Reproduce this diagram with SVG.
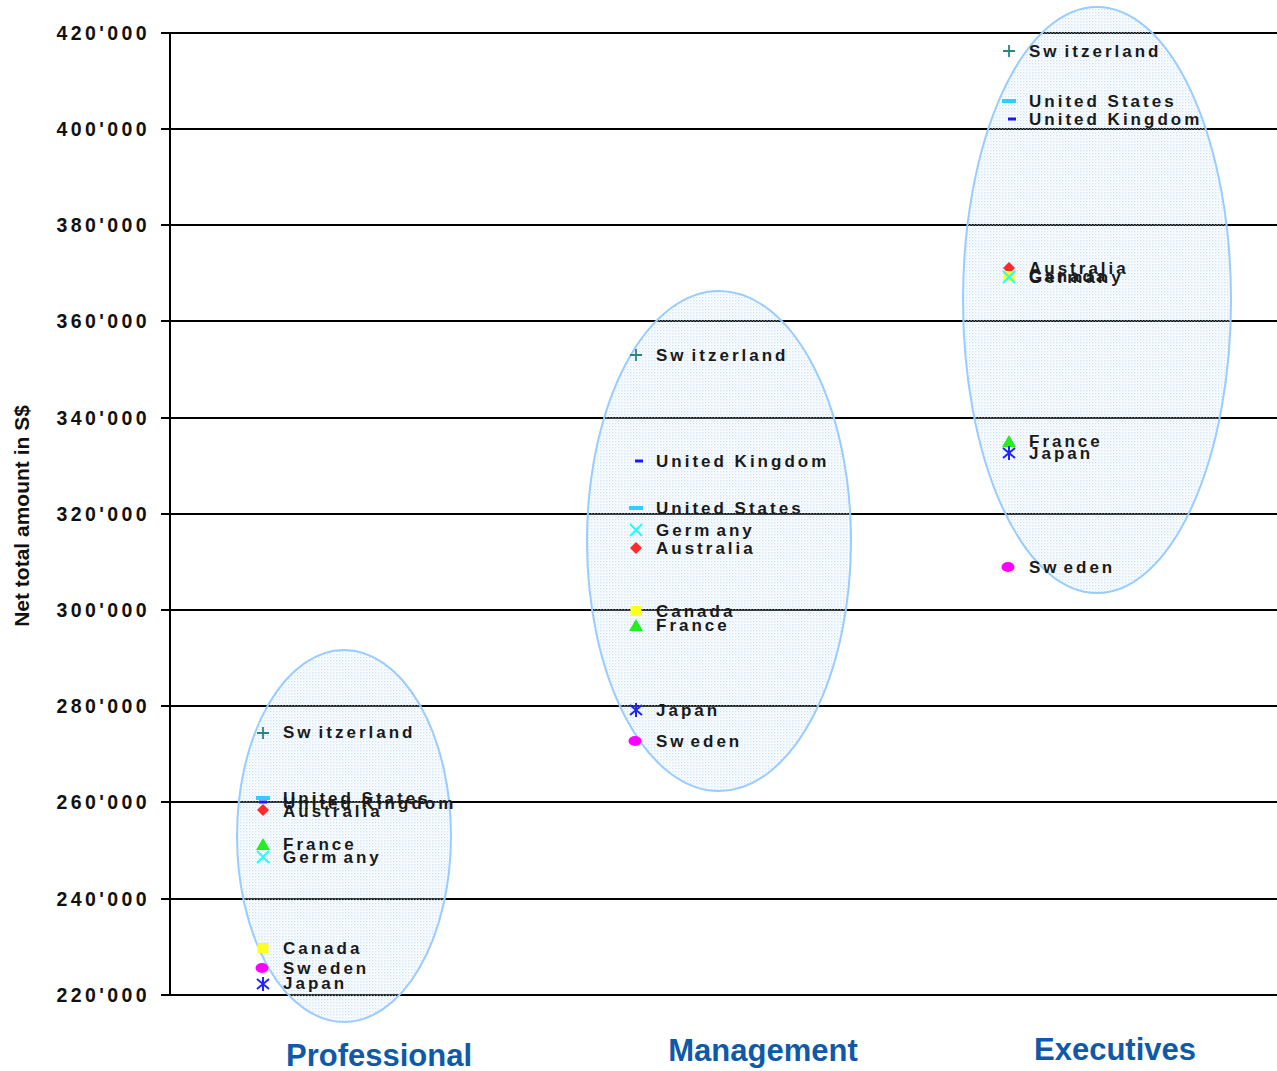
<svg xmlns="http://www.w3.org/2000/svg" xmlns:xlink="http://www.w3.org/1999/xlink" width="1277" height="1071" viewBox="0 0 1277 1071">
<style>
.grid{stroke:#000;stroke-width:2;fill:none}
.ytick{font-family:"Liberation Sans",Arial,sans-serif;font-weight:bold;font-size:19.5px;letter-spacing:3.4px;fill:#111;text-anchor:end}
.lbl{font-family:"Liberation Sans",Arial,sans-serif;font-weight:bold;font-size:17px;letter-spacing:3px;fill:#1a1a1a}
.cat{font-family:"Liberation Sans",Arial,sans-serif;font-weight:bold;font-size:31px;fill:#0f5aa8;text-anchor:middle}
.ytitle{font-family:"Liberation Sans",Arial,sans-serif;font-weight:bold;font-size:21px;fill:#111;text-anchor:middle}
.ell{fill:url(#dots);fill-opacity:0.55;stroke:#99ccff;stroke-width:2}
</style>
<defs>
<pattern id="dots" width="3" height="3" patternUnits="userSpaceOnUse">
<rect x="0" y="0" width="1.5" height="1.5" fill="#a8d0f3"/>
<rect x="1.5" y="1.5" width="1.5" height="1.5" fill="#e4f1fc"/>
</pattern>
<path id="m-plus" d="M-6,0H6M0,-6V6" stroke="#2a8580" stroke-width="1.8" fill="none"/>
<rect id="m-us" x="-7" y="-2" width="14" height="4" fill="#33ccff"/>
<rect id="m-uk" x="-4" y="-1.5" width="8" height="3" fill="#1a1aff"/>
<polygon id="m-dia" points="0,-6 6,0 0,6 -6,0" fill="#ff2a2a"/>
<polygon id="m-tri" points="0,-7 7,5 -7,5" fill="#22ee22"/>
<path id="m-x" d="M-6,-6L6,6M6,-6L-6,6" stroke="#22ffff" stroke-width="2" fill="none"/>
<rect id="m-sq" x="-5.5" y="-5" width="11" height="10" fill="#ffff22"/>
<ellipse id="m-ci" rx="6.5" ry="5" fill="#ff00ff"/>
<path id="m-ast" d="M-6,-5L6,5M6,-5L-6,5M0,-7V7" stroke="#2222ff" stroke-width="2" fill="none"/>
</defs>
<rect width="1277" height="1071" fill="#fff"/>

<g id="axes">
<path class="grid" d="M161,33H1277M161,129H1277M161,225H1277M161,321H1277M161,418H1277M161,514H1277M161,610H1277M161,706H1277M161,802H1277M161,899H1277M161,995H1277M170,33V995"/>
<text class="ytick" x="150" y="40">420'000</text>
<text class="ytick" x="150" y="136">400'000</text>
<text class="ytick" x="150" y="232">380'000</text>
<text class="ytick" x="150" y="328">360'000</text>
<text class="ytick" x="150" y="425">340'000</text>
<text class="ytick" x="150" y="521">320'000</text>
<text class="ytick" x="150" y="617">300'000</text>
<text class="ytick" x="150" y="713">280'000</text>
<text class="ytick" x="150" y="809">260'000</text>
<text class="ytick" x="150" y="906">240'000</text>
<text class="ytick" x="150" y="1002">220'000</text>
<text class="ytitle" transform="translate(29,516) rotate(-90)">Net total amount in S$</text>
</g>

<g id="professional">
<ellipse class="ell" cx="344" cy="836" rx="107" ry="186"/>
<use href="#m-plus" x="263" y="733"/>
<use href="#m-us" x="263" y="798"/>
<use href="#m-uk" x="263" y="802"/>
<use href="#m-dia" x="263" y="810"/>
<use href="#m-tri" x="263" y="845"/>
<use href="#m-x" x="263" y="857"/>
<use href="#m-sq" x="263" y="948"/>
<use href="#m-ci" x="262" y="968"/>
<use href="#m-ast" x="263" y="984"/>
<text class="lbl" x="283" y="738">Sw<tspan dx="5">itzerland</tspan></text>
<text class="lbl" x="283" y="804">United States</text>
<text class="lbl" x="283" y="809">United Kingdom</text>
<text class="lbl" x="283" y="817">Australia</text>
<text class="lbl" x="283" y="850">France</text>
<text class="lbl" x="283" y="863">Germ<tspan dx="4">any</tspan></text>
<text class="lbl" x="283" y="954">Canada</text>
<text class="lbl" x="283" y="974">Sw<tspan dx="4">eden</tspan></text>
<text class="lbl" x="283" y="989">Japan</text>
<text class="cat" x="379" y="1066">Professional</text>
</g>

<g id="management">
<ellipse class="ell" cx="719" cy="541" rx="132" ry="250"/>
<use href="#m-plus" x="636" y="355"/>
<use href="#m-uk" x="639" y="461"/>
<use href="#m-us" x="636" y="508"/>
<use href="#m-x" x="636" y="530"/>
<use href="#m-dia" x="636" y="548"/>
<use href="#m-sq" x="636" y="611"/>
<use href="#m-tri" x="636" y="626"/>
<use href="#m-ast" x="636" y="710"/>
<use href="#m-ci" x="635" y="741"/>
<text class="lbl" x="656" y="361">Sw<tspan dx="5">itzerland</tspan></text>
<text class="lbl" x="656" y="467">United Kingdom</text>
<text class="lbl" x="656" y="514">United States</text>
<text class="lbl" x="656" y="536">Germ<tspan dx="4">any</tspan></text>
<text class="lbl" x="656" y="554">Australia</text>
<text class="lbl" x="656" y="617">Canada</text>
<text class="lbl" x="656" y="631">France</text>
<text class="lbl" x="656" y="716">Japan</text>
<text class="lbl" x="656" y="747">Sw<tspan dx="4">eden</tspan></text>
<text class="cat" x="763" y="1061">Management</text>
</g>

<g id="executives">
<ellipse class="ell" cx="1097" cy="300" rx="134" ry="293"/>
<use href="#m-plus" x="1009" y="51"/>
<use href="#m-us" x="1009" y="101"/>
<use href="#m-uk" x="1012" y="119"/>
<use href="#m-dia" x="1009" y="268"/>
<use href="#m-sq" x="1009" y="276"/>
<use href="#m-x" x="1009" y="277"/>
<use href="#m-tri" x="1009" y="442"/>
<use href="#m-ast" x="1009" y="453"/>
<use href="#m-ci" x="1008" y="567"/>
<text class="lbl" x="1029" y="57">Sw<tspan dx="5">itzerland</tspan></text>
<text class="lbl" x="1029" y="107">United States</text>
<text class="lbl" x="1029" y="125">United Kingdom</text>
<text class="lbl" x="1029" y="274">Australia</text>
<text class="lbl" x="1029" y="282">Canada</text>
<text class="lbl" x="1029" y="283">Germany</text>
<text class="lbl" x="1029" y="447">France</text>
<text class="lbl" x="1029" y="459">Japan</text>
<text class="lbl" x="1029" y="573">Sw<tspan dx="4">eden</tspan></text>
<text class="cat" x="1115" y="1060">Executives</text>
</g>

<g id="connectors"></g>
</svg>
